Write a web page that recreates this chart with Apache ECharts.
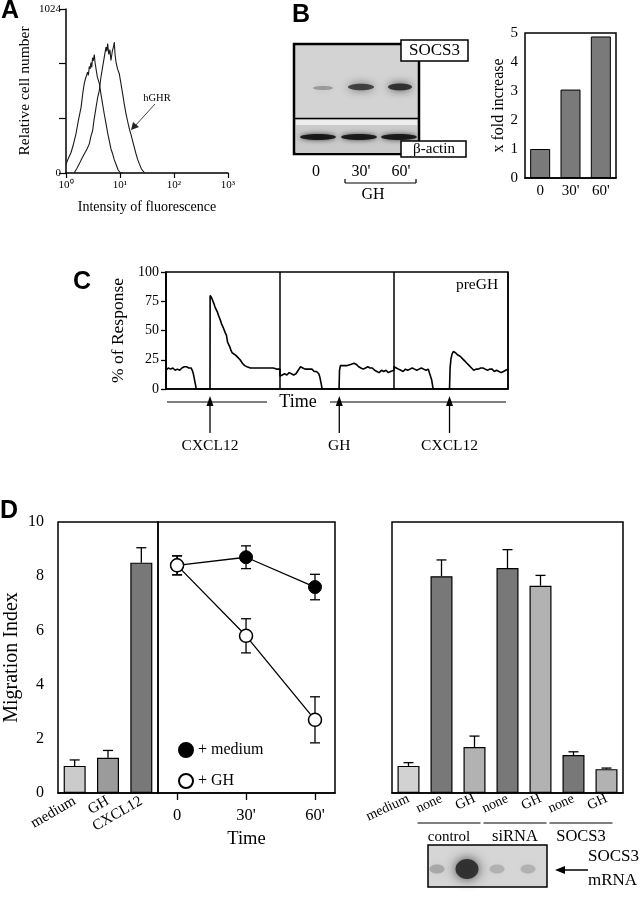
<!DOCTYPE html>
<html><head><meta charset="utf-8">
<script src="https://cdn.jsdelivr.net/npm/echarts@6/dist/echarts.min.js"></script>
<style>html,body{margin:0;padding:0;background:#fff}#c{width:644px;height:900px}</style>
</head><body><div id="c"></div>
<script>
// ---------- DATA ----------
// Panel A: flow cytometry histograms [intensity, relative cell number]
const histControl = [[1.0,55],[1.1,90],[1.24,128],[1.35,170],[1.53,245],[1.7,330],[1.9,410],[2.05,500],[2.18,560],[2.3,590],[2.51,630],[2.6,610],[2.7,665],[2.8,650],[2.9,690],[3.0,660],[3.1,720],[3.2,700],[3.34,740],[3.45,690],[3.6,650],[3.8,600],[4.14,560],[4.4,500],[4.76,430],[5.1,370],[5.5,310],[5.9,250],[6.34,200],[6.8,150],[7.3,120],[7.8,85],[8.43,55],[9.2,20],[10,3],[11,0]];
const histHGHR = [[1.42,2],[1.6,30],[1.76,57],[2.0,95],[2.18,119],[2.45,150],[2.7,182],[2.9,230],[3.11,264],[3.3,330],[3.6,410],[3.85,470],[4.14,515],[4.4,590],[4.76,661],[5.1,720],[5.5,786],[5.7,760],[5.9,808],[6.2,740],[6.5,770],[6.8,703],[7.2,760],[7.6,790],[7.84,818],[8.1,740],[8.43,693],[9.0,650],[9.7,620],[10.4,560],[11.2,494],[12,430],[12.9,370],[13.9,320],[14.9,276],[16,240],[17.1,201],[18.4,160],[19.8,119],[21.2,85],[22.8,57],[25,25],[28.2,2]];
const aXTickLabels = ['10\u2070','10\u00B9','10\u00B2','10\u00B3'];
const aYLabelValues = [0, 1024];
const aYTickValues = [0, 341.33, 682.67, 1024];

// Panel B
const bCategories = ["0", "30'", "60'"];
const bFold = [1.0, 3.05, 4.88];
const bSocs3Band = [0.3, 0.75, 0.85];
const bActinBand = [0.9, 0.9, 0.9];

// Panel C: calcium flux trace [time unit, % response]
const cTrace = [[0,16],[2,18],[4,17],[6,18],[8,16],[10,17],[12,16],[14,18],[16,19],[18,19],[20,18],[22,18],[23,16],[24,13],[25,8],[26,3],[26.5,0],[38.6,0],[38.7,80],[40,78],[42,73],[43,70],[44,69],[45,66],[46,63],[47,62],[48,58],[49,55],[50,53],[51,52],[52,48],[53,46],[54,40],[55,38],[56,36],[57,33],[58,31],[59,30],[61,29],[63,27],[65,25],[67,22],[69,20],[71,19],[74,18],[78,18],[82,18],[86,18],[90,18],[94,18],[97,17],[100,17],
[100,11],[102,12],[104,13],[106,12],[108,14],[110,13],[112,12],[114,13],[116,16],[118,19],[120,18],[122,17],[124,17],[126,17],[128,17],[130,15],[132,15],[134,13],[135,10],[136,5],[137,0],[151.8,0],[152.2,16],[153,20],[156,20],[159,20],[162,21],[165,22],[167,21],[169,19],[171,18],[173,17],[175,18],[177,19],[179,18],[181,18],[183,16],[185,15],[187,14],[189,16],[191,15],[193,16],[195,14],[197,15],[200,16],
[200,19],[202,18],[204,17],[206,16],[208,15],[210,17],[212,16],[214,17],[216,18],[218,17],[220,16],[222,17],[224,18],[226,17],[228,16],[230,17],[231.5,16],[233,8],[234,2],[234.5,0],[248.7,0],[249.2,18],[250,26],[251,30],[252,32],[254,31],[256,29],[258,28],[260,26],[262,24],[264,22],[266,20],[268,18],[270,16],[272,17],[274,17],[276,18],[278,18],[280,17],[282,16],[284,17],[286,17],[288,15],[290,16],[292,15],[294,14],[296,15],[298,16],[300,17]];
const cStimTimes = [38.6, 152, 248.7];
const cStimLabels = ['CXCL12', 'GH', 'CXCL12'];

// Panel D
const dLeftCats = ['medium', 'GH', 'CXCL12'];
const dLeftVals = [1.0, 1.3, 8.5];
const dLeftErr = [0.22, 0.27, 0.55];
const dTimes = [0, 30, 60];
const dMedium = [8.4, 8.7, 7.6];
const dMediumErr = [0.35, 0.42, 0.47];
const dGH = [8.4, 5.8, 2.7];
const dGHErr = [0.35, 0.63, 0.85];
const dRightCats = ['medium', 'none', 'GH', 'none', 'GH', 'none', 'GH'];
const dRightVals = [1.0, 8.0, 1.7, 8.3, 7.65, 1.4, 0.88];
const dRightErr = [0.12, 0.6, 0.4, 0.68, 0.38, 0.12, 0.04];
const dRightGroups = [['control', 1, 2], ['siRNA', 3, 4], ['SOCS3', 5, 6]];
const mRNABand = [0.25, 0.95, 0.2, 0.2];

// ---------- STYLE ----------
const SERIF = 'Liberation Serif';
const SANS = 'Liberation Sans';
const BLACK = '#000';
const dLeftColors = ['#cbcbcb', '#9b9b9b', '#787878'];
const dRightColors = ['#d2d2d2', '#787878', '#b2b2b2', '#787878', '#b2b2b2', '#787878', '#b2b2b2'];

const chart = echarts.init(document.getElementById('c'));

const axLine = {lineStyle: {color: BLACK, width: 1.5}};
const txt = (size) => ({fontFamily: SERIF, fontSize: size, color: BLACK});
const gridBox = (l, t, w, h, show) => ({left: l, top: t, width: w, height: h, show: show, borderColor: BLACK, borderWidth: 1.5, backgroundColor: 'transparent', containLabel: false});

function errRender(twoSided) {
  return function (params, api) {
    const x = api.value(0), y = api.value(1), e = api.value(2);
    const top = api.coord([x, y + e]);
    const base = api.coord([x, twoSided ? y - e : y]);
    const hw = 5;
    const style = {stroke: BLACK, lineWidth: 1.3, fill: null};
    const children = [
      {type: 'line', shape: {x1: top[0], y1: top[1], x2: base[0], y2: base[1]}, style: style},
      {type: 'line', shape: {x1: top[0] - hw, y1: top[1], x2: top[0] + hw, y2: top[1]}, style: style}
    ];
    if (twoSided) children.push({type: 'line', shape: {x1: base[0] - hw, y1: base[1], x2: base[0] + hw, y2: base[1]}, style: style});
    return {type: 'group', children: children};
  };
}

const option = {
  animation: false,
  backgroundColor: '#fff',
  grid: [
    gridBox(66, 9, 162, 164, false),   // A
    gridBox(525, 33, 91, 145, true),   // B bars
    gridBox(166, 272, 342, 117, true), // C
    gridBox(58, 522, 100, 271, true),  // D left
    gridBox(158, 522, 177, 271, true), // D middle
    gridBox(392, 522, 231, 271, true)  // D right
  ],
  legend: {
    data: ['+ medium', '+ GH'], orient: 'vertical', left: 173, top: 737,
    icon: 'circle', itemWidth: 14, itemHeight: 14, itemGap: 15,
    textStyle: txt(16), selectedMode: false
  },
  xAxis: [
    {gridIndex: 0, type: 'log', logBase: 10, min: 1, max: 1000, axisLine: axLine,
      axisTick: {length: 5, lineStyle: {color: BLACK, width: 1.2}},
      axisLabel: Object.assign(txt(11), {margin: 7, formatter: v => aXTickLabels[Math.round(Math.log10(v))]}),
      splitLine: {show: false}, minorTick: {show: false},
      name: 'Intensity of fluorescence', nameLocation: 'middle', nameGap: 27, nameTextStyle: txt(14)},
    {gridIndex: 1, type: 'category', data: bCategories, axisLine: axLine, axisTick: {show: false},
      axisLabel: Object.assign(txt(15), {margin: 6})},
    {gridIndex: 2, type: 'value', min: 0, max: 300, interval: 100, axisLine: axLine,
      axisTick: {show: false}, axisLabel: {show: false},
      splitLine: {show: true, lineStyle: {color: BLACK, width: 1.5}}},
    {gridIndex: 3, type: 'category', data: dLeftCats, axisLine: axLine, axisTick: {show: false},
      axisLabel: Object.assign(txt(15), {rotate: 30, interval: 0, margin: 7})},
    {gridIndex: 4, type: 'value', min: -8.3, max: 68.7, axisLine: axLine,
      axisTick: {length: 7, customValues: dTimes, lineStyle: {color: BLACK, width: 1.3}},
      axisLabel: Object.assign(txt(16.5), {margin: 14, customValues: dTimes, formatter: v => v === 0 ? '0' : v + "'"}),
      splitLine: {show: false},
      name: 'Time', nameLocation: 'middle', nameGap: 37, nameTextStyle: txt(18.5)},
    {gridIndex: 5, type: 'category', data: dRightCats, axisLine: axLine, axisTick: {show: false},
      axisLabel: Object.assign(txt(14), {rotate: 25, interval: 0, margin: 5})}
  ],
  yAxis: [
    {gridIndex: 0, type: 'value', min: 0, max: 1024, axisLine: axLine,
      axisTick: {length: 7, customValues: aYTickValues, lineStyle: {color: BLACK, width: 1.2}},
      axisLabel: Object.assign(txt(11), {margin: 5, customValues: aYLabelValues, formatter: v => String(Math.round(v))}),
      splitLine: {show: false},
      name: 'Relative cell number', nameLocation: 'middle', nameGap: 33, nameTextStyle: txt(15.5)},
    {gridIndex: 1, type: 'value', min: 0, max: 5, interval: 1, axisLine: axLine,
      axisTick: {length: 5, lineStyle: {color: BLACK, width: 1.3}},
      axisLabel: Object.assign(txt(15), {margin: 7}), splitLine: {show: false},
      name: 'x fold increase', nameLocation: 'middle', nameGap: 18, nameTextStyle: txt(16)},
    {gridIndex: 2, type: 'value', min: 0, max: 100, interval: 25, axisLine: axLine,
      axisTick: {length: 5, lineStyle: {color: BLACK, width: 1.3}},
      axisLabel: Object.assign(txt(14), {margin: 7}), splitLine: {show: false},
      name: '% of Response', nameLocation: 'middle', nameGap: 35, nameTextStyle: txt(17.5)},
    {gridIndex: 3, type: 'value', min: 0, max: 10, interval: 2, axisLine: axLine,
      axisTick: {length: 8, lineStyle: {color: BLACK, width: 1.3}},
      axisLabel: Object.assign(txt(16), {margin: 14}), splitLine: {show: false},
      name: 'Migration Index', nameLocation: 'middle', nameGap: 36, nameTextStyle: txt(20)},
    {gridIndex: 4, type: 'value', min: 0, max: 10, interval: 2, show: false},
    {gridIndex: 5, type: 'value', min: 0, max: 10, interval: 2, axisLine: axLine,
      axisTick: {length: 8, lineStyle: {color: BLACK, width: 1.3}},
      axisLabel: {show: false}, splitLine: {show: false}}
  ],
  series: [
    {type: 'line', name: 'control', xAxisIndex: 0, yAxisIndex: 0, data: histControl, showSymbol: false, symbol: 'none',
      lineStyle: {color: '#1a1a1a', width: 1.1}, silent: true},
    {type: 'line', name: 'hGHR', xAxisIndex: 0, yAxisIndex: 0, data: histHGHR, showSymbol: false, symbol: 'none',
      lineStyle: {color: '#1a1a1a', width: 1.1}, silent: true},
    {type: 'bar', name: 'fold', xAxisIndex: 1, yAxisIndex: 1, data: bFold, barWidth: 20,
      itemStyle: {color: '#7a7a7a', borderColor: BLACK, borderWidth: 1}, silent: true},
    {type: 'line', name: 'trace', xAxisIndex: 2, yAxisIndex: 2, data: cTrace, showSymbol: false, symbol: 'none',
      lineStyle: {color: BLACK, width: 1.6}, silent: true},
    {type: 'bar', name: 'dleft', xAxisIndex: 3, yAxisIndex: 3, barWidth: 22,
      data: dLeftVals.map((v, i) => ({value: v, itemStyle: {color: dLeftColors[i]}})),
      itemStyle: {borderColor: BLACK, borderWidth: 1.2}, silent: true},
    {type: 'custom', name: 'dleftErr', xAxisIndex: 3, yAxisIndex: 3, z: 4,
      data: dLeftVals.map((v, i) => [i, v, dLeftErr[i]]), renderItem: errRender(false), silent: true},
    {type: 'custom', name: 'medErr', xAxisIndex: 4, yAxisIndex: 4, z: 3,
      data: dTimes.map((t, i) => [t, dMedium[i], dMediumErr[i]]), renderItem: errRender(true), silent: true},
    {type: 'custom', name: 'ghErr', xAxisIndex: 4, yAxisIndex: 4, z: 3,
      data: dTimes.map((t, i) => [t, dGH[i], dGHErr[i]]), renderItem: errRender(true), silent: true},
    {type: 'line', name: '+ medium', xAxisIndex: 4, yAxisIndex: 4, z: 5, data: dTimes.map((t, i) => [t, dMedium[i]]),
      symbol: 'circle', symbolSize: 13, lineStyle: {color: BLACK, width: 1.3},
      itemStyle: {color: BLACK, borderColor: BLACK, borderWidth: 1}, silent: true},
    {type: 'line', name: '+ GH', xAxisIndex: 4, yAxisIndex: 4, z: 5, data: dTimes.map((t, i) => [t, dGH[i]]),
      symbol: 'circle', symbolSize: 13, lineStyle: {color: BLACK, width: 1.3},
      itemStyle: {color: '#fff', borderColor: BLACK, borderWidth: 1.5}, silent: true},
    {type: 'bar', name: 'dright', xAxisIndex: 5, yAxisIndex: 5, barWidth: 22,
      data: dRightVals.map((v, i) => ({value: v, itemStyle: {color: dRightColors[i]}})),
      itemStyle: {borderColor: BLACK, borderWidth: 1.2}, silent: true},
    {type: 'custom', name: 'drightErr', xAxisIndex: 5, yAxisIndex: 5, z: 4,
      data: dRightVals.map((v, i) => [i, v, dRightErr[i]]), renderItem: errRender(false), silent: true}
  ]
};
chart.setOption(option);

// ---------- ANNOTATIONS ----------
const G = [];
const text = (x, y, s, size, opt) => G.push(Object.assign({type: 'text', x: x, y: y,
  style: Object.assign({text: s, fontFamily: SERIF, fontSize: size, fill: BLACK, textAlign: 'center', textVerticalAlign: 'middle'}, opt || {})}));
const line = (x1, y1, x2, y2, w, c) => G.push({type: 'line', shape: {x1, y1, x2, y2}, style: {stroke: c || BLACK, lineWidth: w || 1.3}});
const tri = (pts, c) => G.push({type: 'polygon', shape: {points: pts}, style: {fill: c || BLACK}});
const letter = (x, y, s) => G.push({type: 'text', x: x, y: y, style: {text: s, fontFamily: SANS, fontWeight: 'bold', fontSize: 25, fill: BLACK, textAlign: 'left', textVerticalAlign: 'top'}});

letter(1, -1, 'A'); letter(292, 3, 'B'); letter(73, 270, 'C'); letter(0, 499, 'D');

// Panel A hGHR pointer
text(157, 98, 'hGHR', 10.5);
line(155, 104, 135, 126, 1, '#444');
tri([[131, 130], [133, 122], [139, 127]], '#222');

// Panel B blot
G.push({type: 'rect', shape: {x: 294, y: 44, width: 125, height: 110}, style: {fill: '#d3d3d3', stroke: BLACK, lineWidth: 2.5}});
G.push({type: 'rect', shape: {x: 296, y: 120, width: 121, height: 5}, style: {fill: '#ededed'}});
G.push({type: 'rect', shape: {x: 296, y: 125, width: 121, height: 28}, style: {fill: '#cacaca'}});
line(295, 118.5, 418, 118.5, 1.6);
const bLaneX = [323, 361, 400];
bSocs3Band.forEach((a, i) => G.push({type: 'ellipse', shape: {cx: bLaneX[i], cy: 88 + (i === 0 ? 0 : -1), rx: [10, 13, 12][i], ry: [2, 3.2, 3.4][i]},
  style: {fill: 'rgba(30,30,30,' + a + ')', shadowBlur: 8, shadowColor: 'rgba(30,30,30,' + a + ')'}}));
const bActinX = [318, 359, 399];
bActinBand.forEach((a, i) => G.push({type: 'ellipse', shape: {cx: bActinX[i], cy: 137, rx: 18, ry: 3},
  style: {fill: 'rgba(15,15,15,' + a + ')', shadowBlur: 5, shadowColor: 'rgba(15,15,15,0.8)'}}));
G.push({type: 'rect', shape: {x: 401, y: 40, width: 67, height: 21}, style: {fill: '#fff', stroke: BLACK, lineWidth: 1.5}});
text(434.5, 51, 'SOCS3', 17);
G.push({type: 'rect', shape: {x: 401, y: 141, width: 65, height: 16}, style: {fill: '#fff', stroke: BLACK, lineWidth: 1.5}});
text(434, 149.5, '\u03B2-actin', 15);
text(316, 172, '0', 16); text(361, 172, "30'", 16); text(401, 172, "60'", 16);
line(345, 183, 416, 183, 1.2); line(345, 179, 345, 183, 1.2); line(416, 179, 416, 183, 1.2);
text(373, 195, 'GH', 16);

// Panel C annotations
text(477, 285, 'preGH', 15.5);
const timeY = 402;
line(167, timeY, 267, timeY, 1.2);
text(298, timeY, 'Time', 18);
line(330, timeY, 506, timeY, 1.2);
cStimTimes.forEach((t, i) => {
  const px = chart.convertToPixel({xAxisIndex: 2}, t);
  line(px, 433, px, 404, 1.3);
  tri([[px, 396], [px - 3.5, 406], [px + 3.5, 406]]);
  text(px, 446, cStimLabels[i], 15.5);
});

// Panel D right group labels
const groupY = 823;
dRightGroups.forEach(g => {
  const p1 = chart.convertToPixel({xAxisIndex: 5}, g[1]);
  const p2 = chart.convertToPixel({xAxisIndex: 5}, g[2]);
  const x1 = p1 - 24, x2 = p2 + 6;
  line(x1, groupY, x2, groupY, 1.2);
  text((x1 + x2) / 2, groupY + 14, g[0], g[0] === 'control' ? 15 : 16.5);
});

// mRNA blot
G.push({type: 'rect', shape: {x: 428, y: 845, width: 119, height: 42}, style: {fill: '#d6d6d6', stroke: BLACK, lineWidth: 1.5}});
const mLaneX = [437, 467, 497, 528];
mRNABand.forEach((a, i) => G.push({type: 'ellipse', shape: {cx: mLaneX[i], cy: 869, rx: i === 1 ? 11.5 : 7.5, ry: i === 1 ? 10 : 4.5},
  style: {fill: 'rgba(45,45,45,' + a + ')', shadowBlur: 12, shadowColor: 'rgba(45,45,45,' + a + ')'}}));
line(588, 870, 562, 870, 1.5);
tri([[555, 870], [565, 866], [565, 874]]);
text(588, 857, 'SOCS3', 17, {textAlign: 'left'});
text(588, 881, 'mRNA', 17, {textAlign: 'left'});

chart.setOption({graphic: G});
</script>
</body></html>
